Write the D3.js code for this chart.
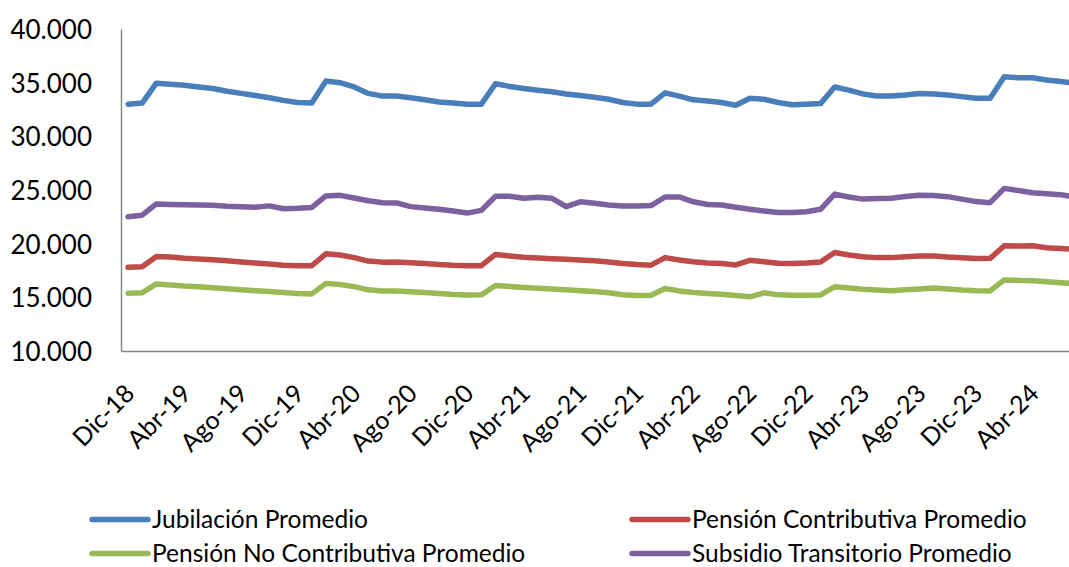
<!DOCTYPE html>
<html>
<head>
<meta charset="utf-8">
<script src="https://cdn.jsdelivr.net/npm/d3@7"></script>
<style>
  html, body { margin: 0; padding: 0; background: #fff; }
  svg { display: block; font-family: Lato, "Open Sans", sans-serif; }
</style>
</head>
<body>
<svg id="chart" width="1069" height="567"></svg>
<script>
// Monthly averages, Dic-18 .. Jul-24
const MONTHS = ['Ene', 'Feb', 'Mar', 'Abr', 'May', 'Jun', 'Jul', 'Ago', 'Sep', 'Oct', 'Nov', 'Dic'];
const START = { month: 11, year: 18 };
const N_MONTHS = 68;

const tickLabels = ['Dic-18', 'Abr-19', 'Ago-19', 'Dic-19', 'Abr-20', 'Ago-20', 'Dic-20', 'Abr-21',
  'Ago-21', 'Dic-21', 'Abr-22', 'Ago-22', 'Dic-22', 'Abr-23', 'Ago-23', 'Dic-23', 'Abr-24'];

const yTicks = [10000, 15000, 20000, 25000, 30000, 35000, 40000];

const jubilacion = [
  33000, 33100, 34950, 34850, 34750, 34600, 34450, 34200, 34000, 33800, 33600, 33350,
  33150, 33100, 35150, 35000, 34600, 34000, 33750, 33750, 33600, 33400, 33200, 33100,
  33000, 33000, 34900, 34650, 34450, 34300, 34150, 33950, 33800, 33650, 33450, 33150,
  33000, 33000, 34050, 33750, 33400, 33300, 33150, 32900, 33550, 33450, 33150, 32950,
  33000, 33050, 34600, 34300, 33950, 33750, 33750, 33850, 34000, 33950, 33850, 33700,
  33550, 33550, 35550, 35450, 35450, 35250, 35100, 34950
];

const pensionContributiva = [
  17800, 17850, 18800, 18750, 18650, 18580, 18500, 18400, 18300, 18200, 18100, 18000,
  17950, 17950, 19050, 18950, 18700, 18380, 18280, 18290, 18220, 18150, 18050, 17980,
  17950, 17950, 19000, 18850, 18730, 18660, 18600, 18540, 18480, 18400, 18300, 18150,
  18050, 18000, 18700, 18480, 18320, 18200, 18150, 18020, 18450, 18320, 18170, 18150,
  18200, 18300, 19180, 18950, 18780, 18700, 18700, 18780, 18850, 18850, 18750, 18680,
  18620, 18630, 19800, 19780, 19800, 19620, 19550, 19480
];

const pensionNoContributiva = [
  15380, 15430, 16250, 16150, 16050, 15980, 15900, 15800, 15700, 15620, 15550, 15450,
  15350, 15320, 16300, 16200, 16000, 15700, 15600, 15600, 15520, 15440, 15350, 15260,
  15220, 15230, 16100, 16000, 15920, 15850, 15780, 15700, 15620, 15550, 15420, 15250,
  15180, 15200, 15820, 15600, 15450, 15350, 15280, 15180, 15050, 15420, 15230, 15200,
  15200, 15220, 15980, 15860, 15750, 15680, 15620, 15700, 15780, 15880, 15780, 15680,
  15620, 15600, 16620, 16580, 16550, 16450, 16350, 16270
];

const subsidioTransitorio = [
  22500, 22650, 23700, 23650, 23620, 23600, 23580, 23480, 23450, 23400, 23520, 23250,
  23300, 23380, 24450, 24500, 24250, 24000, 23820, 23800, 23450, 23320, 23200, 23050,
  22850, 23100, 24420, 24420, 24230, 24320, 24230, 23450, 23900, 23760, 23600, 23500,
  23500, 23550, 24350, 24350, 23900, 23650, 23600, 23400, 23200, 23050, 22900, 22900,
  22980, 23200, 24620, 24350, 24150, 24200, 24230, 24400, 24520, 24480, 24380, 24150,
  23920, 23820, 25150, 24950, 24750, 24650, 24550, 24350
];

const series = [
  { name: 'Jubilación Promedio', values: jubilacion, color: '#4A7EBB' },
  { name: 'Pensión Contributiva Promedio', values: pensionContributiva, color: '#BE4B48' },
  { name: 'Pensión No Contributiva Promedio', values: pensionNoContributiva, color: '#98B954' },
  { name: 'Subsidio Transitorio Promedio', values: subsidioTransitorio, color: '#7D60A0' }
];

// draw order in the picture: purple, red, green under blue
const drawOrder = [3, 1, 2, 0];

const categories = d3.range(N_MONTHS).map(i => {
  const m = (START.month + i) % 12;
  const yr = START.year + Math.floor((START.month + i) / 12);
  return `${MONTHS[m]}-${yr}`;
});

const plot = { left: 121, right: 1082, top: 29, bottom: 351 };
const AXIS_COLOR = '#868686';

const svg = d3.select('#chart');

const x = d3.scaleBand()
  .domain(categories)
  .range([plot.left, plot.right])
  .paddingInner(0)
  .paddingOuter(0);
const xc = c => x(c) + x.bandwidth() / 2;

const y = d3.scaleLinear()
  .domain([10000, 40000])
  .range([plot.bottom, plot.top]);

const esLocale = d3.formatLocale({ decimal: ',', thousands: '.', grouping: [3], currency: ['$', ''] });
const fmt = esLocale.format(',.0f');

// Y axis
const yAxis = svg.append('g')
  .attr('transform', `translate(${plot.left},0)`)
  .call(d3.axisLeft(y).tickValues(yTicks).tickSize(0).tickPadding(29).tickFormat(fmt));
yAxis.select('.domain').attr('stroke', AXIS_COLOR).attr('stroke-width', 1.5);
yAxis.selectAll('text')
  .attr('font-size', 26)
  .attr('font-family', 'Lato, sans-serif')
  .attr('fill', '#000')
  .attr('dy', '0.36em');

// X axis, labels turned 45 degrees and hung from the tick
const xAxis = svg.append('g')
  .attr('transform', `translate(0,${plot.bottom})`)
  .call(d3.axisBottom(x).tickValues(tickLabels).tickSize(0).tickSizeOuter(0));
xAxis.select('.domain').attr('stroke', AXIS_COLOR).attr('stroke-width', 1.5);
xAxis.selectAll('.tick text')
  .attr('font-size', 25)
  .attr('font-family', 'Lato, sans-serif')
  .attr('fill', '#000')
  .attr('text-anchor', 'end')
  .attr('x', 0)
  .attr('y', 0)
  .attr('dy', 0)
  .attr('transform', `translate(${x.bandwidth() / 2 + 1},${395 - plot.bottom}) rotate(-45)`);

// Lines
const line = d3.line()
  .x((d, i) => xc(categories[i]))
  .y(d => y(d))
  .curve(d3.curveLinear);

svg.append('g')
  .selectAll('path.series')
  .data(drawOrder.map(i => series[i]))
  .join('path')
  .attr('class', 'series')
  .attr('d', s => line(s.values))
  .attr('fill', 'none')
  .attr('stroke', s => s.color)
  .attr('stroke-width', 5.5)
  .attr('stroke-linejoin', 'round')
  .attr('stroke-linecap', 'round');

// Legend, 2x2 (baselines)
const legendCols = [92, 632];
const legendRows = [528, 562];
const legend = svg.append('g')
  .selectAll('g.legend-item')
  .data(series)
  .join('g')
  .attr('class', 'legend-item')
  .attr('transform', (s, i) => `translate(${legendCols[i % 2]},${legendRows[Math.floor(i / 2)]})`);

legend.append('line')
  .attr('x1', 0).attr('x2', 56)
  .attr('y1', -8.5).attr('y2', -8.5)
  .attr('stroke', s => s.color)
  .attr('stroke-width', 5.5)
  .attr('stroke-linecap', 'round');

legend.append('text')
  .attr('x', 60)
  .attr('font-size', 24.5)
  .attr('fill', '#000')
  .text(s => s.name);
</script>
</body>
</html>
